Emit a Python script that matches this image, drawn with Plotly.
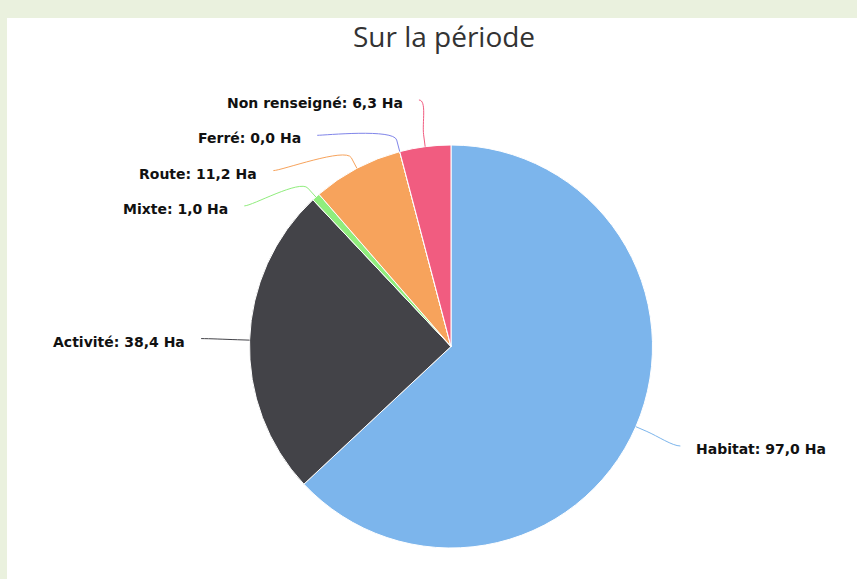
import math
import plotly.graph_objects as go

# ---- data ----
categories = ["Habitat", "Activité", "Mixte", "Route", "Ferré", "Non renseigné"]
values = [97.0, 38.4, 1.0, 11.2, 0.0, 6.3]
colors = ["#7cb5ec", "#434348", "#90ed7d", "#f7a35c", "#8085e9", "#f15c80"]
title_text = "Sur la période"
unit = "Ha"

# ---- geometry (pixels) ----
W, H = 857, 579
CX, CY, R = 451, 346.5, 201.5
LABEL_R = 250
BREAK_R = R + 12
SPACING = 35.3
TOP, BOTTOM = 100, 560


def fmt(v):
    return f"{v:.1f}".replace(".", ",")


def px(x):
    return x / W


def py(y):
    return 1 - y / H


total = sum(values)
mids = []
acc = 0.0
for v in values:
    a0 = acc / total * 2 * math.pi
    acc += v
    a1 = acc / total * 2 * math.pi
    mids.append((a0 + a1) / 2)


def pt(theta, rho):
    return CX + rho * math.sin(theta), CY - rho * math.cos(theta)


def distribute(items):
    items = sorted(items, key=lambda t: t[1])
    groups = [{"idx": [i], "targets": [t], "pos": t} for i, t in items]
    changed = True
    while changed:
        changed = False
        for g in groups:
            n = len(g["idx"])
            g["pos"] = min(max(g["pos"], TOP), BOTTOM - (n - 1) * SPACING)
        for k in range(len(groups) - 1):
            g1, g2 = groups[k], groups[k + 1]
            if g1["pos"] + len(g1["idx"]) * SPACING > g2["pos"]:
                idx = g1["idx"] + g2["idx"]
                tg = g1["targets"] + g2["targets"]
                n = len(idx)
                pos = sum(tg) / n - (n - 1) * SPACING / 2
                groups[k] = {"idx": idx, "targets": tg, "pos": pos}
                del groups[k + 1]
                changed = True
                break
    out = {}
    for g in groups:
        n = len(g["idx"])
        g["pos"] = min(max(g["pos"], TOP), BOTTOM - (n - 1) * SPACING)
        for j, i in enumerate(g["idx"]):
            out[i] = g["pos"] + j * SPACING
    return out


natural_y = [pt(m, LABEL_R)[1] for m in mids]
left = [(i, natural_y[i]) for i, m in enumerate(mids) if math.sin(m) < 0]
right = [(i, natural_y[i]) for i, m in enumerate(mids) if math.sin(m) >= 0]
final_y = {}
final_y.update(distribute(left))
final_y.update(distribute(right))

fig = go.Figure()
fig.add_trace(go.Pie(
    labels=categories,
    values=values,
    sort=False,
    direction="clockwise",
    rotation=0,
    textinfo="none",
    hoverinfo="label+value",
    marker=dict(colors=colors, line=dict(color="#ffffff", width=1)),
    showlegend=False,
    domain=dict(x=[px(CX - R), px(CX + R)], y=[py(CY + R), py(CY - R)]),
))

shapes = [
    dict(type="rect", xref="paper", yref="paper", x0=px(7), x1=1, y0=0, y1=py(18),
         fillcolor="#ffffff", line=dict(width=0), layer="below"),
]
annotations = []
for i, m in enumerate(mids):
    is_left = math.sin(m) < 0
    y = final_y[i]
    yx = natural_y[i] if (y < TOP + 2 or y > BOTTOM - 2) else y
    dx = math.sqrt(max(LABEL_R ** 2 - (yx - CY) ** 2, 0))
    x = CX - dx if is_left else CX + dx
    tx, ty = pt(m, R)
    bx, by = pt(m, BREAK_R)
    c1x = x + 8 if is_left else x - 8
    c2x, c2y = 2 * bx - tx, 2 * by - ty
    path = (f"M {px(x)},{py(y)} C {px(c1x)},{py(y)} {px(c2x)},{py(c2y)} {px(bx)},{py(by)} "
            f"L {px(tx)},{py(ty)}")
    shapes.append(dict(type="path", xref="paper", yref="paper", path=path,
                       line=dict(color=colors[i], width=1)))
    annotations.append(dict(
        xref="paper", yref="paper",
        x=px(x - 14) if is_left else px(x + 14),
        y=py(y + 3),
        xanchor="right" if is_left else "left",
        yanchor="middle",
        text=f"<b>{categories[i]}: {fmt(values[i])} {unit}</b>",
        showarrow=False,
        font=dict(family="DejaVu Sans", size=14, color="#111111"),
    ))

fig.update_layout(
    width=W, height=H, autosize=False,
    margin=dict(l=0, r=0, t=0, b=0),
    paper_bgcolor="#eaf1de",
    plot_bgcolor="#ffffff",
    title=dict(text=title_text, x=px(444), y=py(37), xref="paper", yref="paper",
               xanchor="center", yanchor="middle",
               font=dict(family="Open Sans", size=28, color="#333333")),
    shapes=shapes,
    annotations=annotations,
)

fig.write_html("out.html")
